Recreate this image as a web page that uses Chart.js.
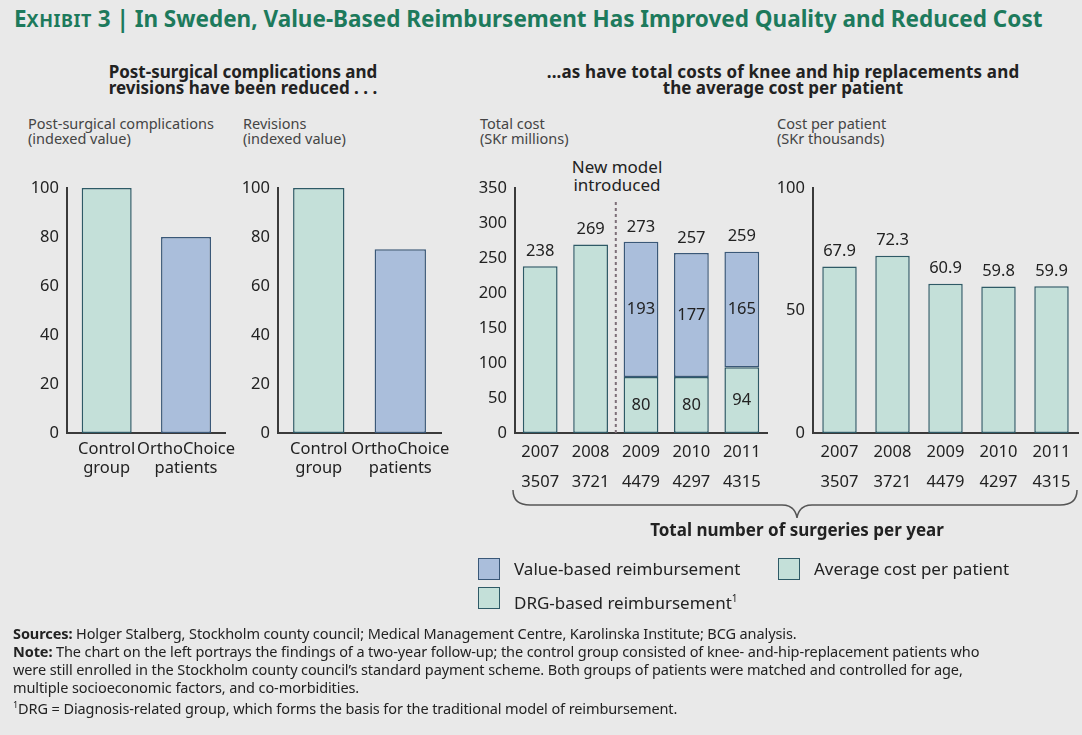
<!DOCTYPE html>
<html>
<head>
<meta charset="utf-8">
<script src="https://cdn.jsdelivr.net/npm/chart.js@4.4.1/dist/chart.umd.min.js"></script>
<style>
  body { margin: 0; width: 1082px; height: 735px; overflow: hidden; position: relative;
         background: #e9e9e9; font-family: "Noto Sans", sans-serif; color: #222; }
  .t { position: absolute; white-space: nowrap; }
  canvas { position: absolute; }
  .title { left: 14px; top: 5px; font-size: 22.5px; font-weight: bold; color: #1d7a5c; line-height: 28px; }
  .title .sc { font-size: 18px; letter-spacing: 0.5px; }
  .sub { font-size: 17px; font-weight: bold; line-height: 16px; text-align: center; }
  .ax { font-size: 14.5px; color: #444; line-height: 15px; }
  .lg { font-size: 17px; line-height: 22px; }
  .sw { position: absolute; width: 20px; height: 20px; border: 1.5px solid; }
  .foot { left: 13px; top: 624px; font-size: 14.5px; line-height: 18px; color: #222; letter-spacing: -0.1px; }
</style>
</head>
<body>
<div class="t title">E<span class="sc">XHIBIT</span> 3 | In Sweden, Value-Based Reimbursement Has Improved Quality and Reduced Cost</div>

<div class="t sub" style="left:93px; top:64px; width:300px;">Post-surgical complications and<br>revisions have been reduced . . .</div>
<div class="t sub" style="left:483px; top:64px; width:600px; letter-spacing:0.15px;">...as have total costs of knee and hip replacements and</div>
<div class="t sub" style="left:483px; top:80px; width:600px;">the average cost per patient</div>

<div class="t ax" style="left:28px; top:116px;">Post-surgical complications<br>(indexed value)</div>
<div class="t ax" style="left:243px; top:116px;">Revisions<br>(indexed value)</div>
<div class="t ax" style="left:480px; top:116px;">Total cost<br>(SKr millions)</div>
<div class="t ax" style="left:777px; top:116px;">Cost per patient<br>(SKr thousands)</div>

<div class="t" style="left:567px; top:158px; width:100px; text-align:center; font-size:17px; line-height:18px;">New model<br>introduced</div>

<canvas id="c1"></canvas>
<canvas id="c2"></canvas>
<canvas id="c3"></canvas>
<canvas id="c4"></canvas>

<svg class="t" style="left:0; top:0;" width="1082" height="735">
  <path d="M513,490 Q513,505 530,505 L782,505 Q795,505 797,518 Q799,505 812,505 L1060,505 Q1077,505 1077,490"
        fill="none" stroke="#555" stroke-width="1.5"/>
</svg>
<div class="t" style="left:597px; top:520px; width:400px; text-align:center; font-size:17px; font-weight:bold; line-height:20px;">Total number of surgeries per year</div>

<div class="sw" style="left:478px; top:558px; background:#aabedb; border-color:#3a5878;"></div>
<div class="t lg" style="left:514px; top:558px;">Value-based reimbursement</div>
<div class="sw" style="left:778px; top:558px; background:#c4e0d9; border-color:#2e5a66;"></div>
<div class="t lg" style="left:814px; top:558px;">Average cost per patient</div>
<div class="sw" style="left:478px; top:587px; background:#c4e0d9; border-color:#2e5a66;"></div>
<div class="t lg" style="left:514px; top:587px;">DRG-based reimbursement<sup style="font-size:10px;">1</sup></div>

<div class="t foot"><b>Sources:</b> Holger Stalberg, Stockholm county council; Medical Management Centre, Karolinska Institute; BCG analysis.<br>
<b>Note:</b> The chart on the left portrays the findings of a two-year follow-up; the control group consisted of knee- and-hip-replacement patients who<br>
were still enrolled in the Stockholm county council’s standard payment scheme. Both groups of patients were matched and controlled for age,<br>
multiple socioeconomic factors, and co-morbidities.<br>
<sup style="font-size:9px;">1</sup>DRG = Diagnosis-related group, which forms the basis for the traditional model of reimbursement.</div>

<script>
// data
const groupLabels = [['Control', 'group'], ['OrthoChoice', 'patients']];
const complications = [100, 80];
const revisions = [100, 75];
const years = ['2007', '2008', '2009', '2010', '2011'];
const surgeries = ['3507', '3721', '4479', '4297', '4315'];
const drgCost = [238, 269, 80, 80, 94];
const valueCost = [null, null, 193, 177, 165];
const costPerPatient = [67.9, 72.3, 60.9, 59.8, 59.9];

const green = '#c4e0d9', greenEdge = '#2e5a66';
const blue = '#aabedb', blueEdge = '#3a5878';
const axisColor = '#3a3a3a';

Chart.defaults.font.family = '"Noto Sans", sans-serif';
Chart.defaults.color = '#222';
Chart.defaults.animation = false;
Chart.defaults.responsive = false;
Chart.defaults.plugins.legend.display = false;
Chart.defaults.plugins.tooltip.enabled = false;

// labels on top of bars (and inside stacked segments)
const valueLabels = {
    id: 'valueLabels',
    afterDatasetsDraw(chart, args, opts) {
        if (!opts.show) return;
        const ctx = chart.ctx;
        ctx.save();
        ctx.font = '16.5px "Noto Sans"';
        ctx.fillStyle = '#222';
        ctx.textAlign = 'center';
        ctx.textBaseline = 'middle';
        chart.data.labels.forEach((_, i) => {
            const parts = [];
            chart.data.datasets.forEach((ds, d) => {
                if (ds.data[i] != null) parts.push({ v: ds.data[i], el: chart.getDatasetMeta(d).data[i] });
            });
            let total = 0;
            parts.forEach(p => {
                total += p.v;
                if (parts.length > 1) ctx.fillText(String(p.v), p.el.x, (p.el.y + p.el.base) / 2);
            });
            const top = parts[parts.length - 1].el;
            ctx.fillText(opts.decimals ? total.toFixed(opts.decimals) : String(total), top.x, top.y - 15);
        });
        ctx.restore();
    }
};

// dotted "new model" divider between two categories
const modelLine = {
    id: 'modelLine',
    afterDatasetsDraw(chart, args, opts) {
        if (opts.after == null) return;
        const x = (chart.scales.x.getPixelForValue(opts.after) + chart.scales.x.getPixelForValue(opts.after + 1)) / 2;
        const ctx = chart.ctx;
        ctx.save();
        ctx.strokeStyle = '#7d6f78';
        ctx.lineWidth = 2;
        ctx.setLineDash([3, 3]);
        ctx.beginPath();
        ctx.moveTo(x, chart.scales.y.getPixelForValue(opts.from));
        ctx.lineTo(x, chart.scales.y.getPixelForValue(0));
        ctx.stroke();
        ctx.restore();
    }
};
Chart.register(valueLabels, modelLine);

function place(id, left, top, w, h) {
    const c = document.getElementById(id);
    c.width = w; c.height = h;
    c.style.left = left + 'px'; c.style.top = top + 'px';
    c.style.width = w + 'px'; c.style.height = h + 'px';
    return c;
}

function makeChart(id, box, cfg) {
    const canvas = place(id, box.left, box.top, box.w, box.h);
    return new Chart(canvas, {
        type: 'bar',
        data: { labels: cfg.labels, datasets: cfg.datasets },
        options: {
            layout: { padding: { top: box.padTop, right: box.padRight, left: 0, bottom: 0 } },
            scales: {
                x: {
                    stacked: true,
                    grid: { display: false, drawTicks: false },
                    border: { color: axisColor, width: 2 },
                    ticks: { padding: cfg.xPad, maxRotation: 0, autoSkip: false,
                             font: { size: 16.5, lineHeight: cfg.lineHeight } },
                    afterFit: s => { s.height = box.xh; }
                },
                y: {
                    stacked: true,
                    min: 0, max: cfg.max,
                    grid: { display: false, drawTicks: false },
                    border: { color: axisColor, width: 2 },
                    ticks: { stepSize: cfg.step, padding: 8, font: { size: 16.5 } },
                    afterFit: s => { s.width = box.yw; }
                }
            },
            plugins: {
                valueLabels: cfg.valueLabels || { show: false },
                modelLine: cfg.modelLine || {}
            }
        }
    });
}

function barSet(data, fill, edge, pct) {
    return { data: data, backgroundColor: fill, borderColor: edge, borderWidth: 1.5,
             borderSkipped: false, barPercentage: pct, categoryPercentage: 1 };
}

makeChart('c1', { left: 15, top: 170, w: 230, h: 330, padTop: 12, padRight: 12, yw: 52, xh: 67 }, {
    labels: groupLabels, max: 100, step: 20, xPad: 7, lineHeight: 1.15,
    datasets: [{ ...barSet(complications, [green, blue], [greenEdge, blueEdge], 0.63) }]
});

makeChart('c2', { left: 230, top: 170, w: 230, h: 330, padTop: 12, padRight: 15, yw: 48, xh: 67 }, {
    labels: groupLabels, max: 100, step: 20, xPad: 7, lineHeight: 1.15,
    datasets: [{ ...barSet(revisions, [green, blue], [greenEdge, blueEdge], 0.63) }]
});

makeChart('c3', { left: 465, top: 170, w: 310, h: 330, padTop: 13, padRight: 8, yw: 50, xh: 67 }, {
    labels: years.map((y, i) => [y, surgeries[i]]), max: 350, step: 50, xPad: 4, lineHeight: 1.85,
    datasets: [barSet(drgCost, green, greenEdge, 0.69), barSet(valueCost, blue, blueEdge, 0.69)],
    valueLabels: { show: true },
    modelLine: { after: 1, from: 330 }
});

makeChart('c4', { left: 765, top: 170, w: 317, h: 330, padTop: 13, padRight: 4, yw: 48, xh: 67 }, {
    labels: years.map((y, i) => [y, surgeries[i]]), max: 100, step: 50, xPad: 4, lineHeight: 1.85,
    datasets: [barSet(costPerPatient, green, greenEdge, 0.65)],
    valueLabels: { show: true, decimals: 1 }
});
</script>
</body>
</html>
